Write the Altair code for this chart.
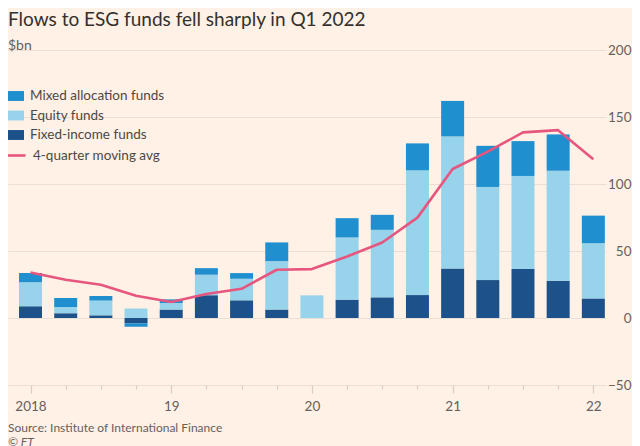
import altair as alt
import pandas as pd

# ---- data ($bn) ----
quarters = ["2018Q1", "2018Q2", "2018Q3", "2018Q4",
            "2019Q1", "2019Q2", "2019Q3", "2019Q4",
            "2020Q1", "2020Q2", "2020Q3", "2020Q4",
            "2021Q1", "2021Q2", "2021Q3", "2021Q4",
            "2022Q1"]
fixed_income = [8.7, 3.5, 2.0, -4.0, 6.3, 17.0, 13.2, 6.3, 0.0, 13.7, 15.4, 17.1, 36.9, 28.3, 36.5, 27.8, 14.6]
equity = [17.9, 4.7, 11.0, 7.0, 4.9, 15.3, 16.1, 36.1, 16.9, 46.4, 50.4, 93.1, 98.6, 69.5, 69.5, 82.1, 41.2]
mixed_allocation = [6.9, 6.7, 3.4, -2.5, 2.7, 4.9, 4.2, 14.0, 0.0, 14.4, 11.2, 20.1, 26.5, 30.7, 26.0, 27.1, 20.6]
moving_avg = [34.0, 28.5, 24.8, 16.6, 11.9, 17.9, 21.8, 36.0, 36.5, 45.9, 56.3, 74.9, 111.2, 124.1, 138.5, 140.2, 118.4]
y_ticks = [-50, 0, 50, 100, 150, 200]

series_names = ["Mixed allocation funds", "Equity funds", "Fixed-income funds"]
series_colors = ["#1f8fcf", "#97d3ea", "#1d5189"]
line_name = "4-quarter moving avg"
line_color = "#e6567f"
source_text = "Source: Institute of International Finance"
copyright_text = "© FT"

FONT = "Lato"
GREY = "#66605c"


def qpos(label):
    return int(label[:4]) + (int(label[-1]) - 1) / 4


rows = []
stack_series = [("Fixed-income funds", fixed_income), ("Equity funds", equity),
                ("Mixed allocation funds", mixed_allocation)]
for i, q in enumerate(quarters):
    for order, (name, vals) in enumerate(stack_series):
        rows.append({"quarter": q, "t": qpos(q), "type": name, "value": vals[i], "ord": order})
bars_df = pd.DataFrame(rows)
line_df = pd.DataFrame({"quarter": quarters, "t": [qpos(q) for q in quarters],
                        "ma": moving_avg, "series": line_name})

W, H = 598, 335

x_scale = alt.Scale(domain=[2017.84, 2022.09], nice=False, zero=False, padding=0)
y_scale = alt.Scale(domain=[-50, 200], nice=False, zero=False, padding=0)

x_axis = alt.Axis(
    values=[qpos(q) for q in quarters],
    labelExpr="datum.value % 1 == 0 ? (datum.value == 2018 ? '2018' : slice(toString(datum.value), 2)) : ''",
    title=None, grid=False, domain=False,
    tickColor="#d8cdc3", tickWidth=1.2,
    tickSize={"condition": {"test": "datum.value % 1 == 0", "value": 8}, "value": 4},
    labelPadding=6, labelFontSize=13.5, labelColor=GREY, labelFont=FONT,
)
y_axis = alt.Axis(
    orient="right", values=y_ticks, title=None, grid=True,
    gridColor="#e9dfd6", gridWidth=1.2, domain=False, ticks=False,
    labelAlign="right", labelPadding=25, labelFontSize=13.5,
    labelColor=GREY, labelFont=FONT,
)

bars = alt.Chart(bars_df).mark_bar(size=23).encode(
    x=alt.X("t:Q", scale=x_scale, axis=x_axis),
    y=alt.Y("value:Q", scale=y_scale, axis=y_axis, stack="zero"),
    color=alt.Color(
        "type:N",
        scale=alt.Scale(domain=series_names, range=series_colors),
        legend=alt.Legend(
            title=None, orient="none", legendX=-2, legendY=37, direction="vertical",
            symbolType="M-1,-0.55L1,-0.55L1,0.55L-1,0.55Z", symbolSize=324,
            symbolStrokeWidth=0, symbolOpacity=1,
            labelFontSize=13.5, labelColor="#4d4845", labelFont=FONT,
            labelOffset=6, rowPadding=3.5, padding=0,
        ),
    ),
    order=alt.Order("ord:Q", sort="ascending"),
)

line = alt.Chart(line_df).mark_line(strokeWidth=2.6, strokeJoin="round").encode(
    x=alt.X("t:Q", scale=x_scale, axis=x_axis),
    y=alt.Y("ma:Q", scale=y_scale, axis=y_axis),
    stroke=alt.Stroke(
        "series:N",
        scale=alt.Scale(domain=[line_name], range=[line_color]),
        legend=alt.Legend(
            title=None, orient="none", legendX=-2, legendY=95,
            symbolType="stroke", symbolSize=324, symbolStrokeWidth=2.6,
            labelFontSize=13.5, labelColor="#4d4845", labelFont=FONT,
            labelOffset=6, padding=0,
        ),
    ),
)

source = alt.Chart(pd.DataFrame({"text": [source_text]})).mark_text(
    align="left", baseline="middle", fontSize=12, font=FONT, color=GREY
).encode(text="text:N", x=alt.value(0), y=alt.value(H + 43))

copyright_mark = alt.Chart(pd.DataFrame({"text": [copyright_text]})).mark_text(
    align="left", baseline="middle", fontSize=12, font=FONT, color=GREY, fontStyle="italic"
).encode(text="text:N", x=alt.value(0), y=alt.value(H + 57))

chart = alt.layer(bars, line, source, copyright_mark).properties(
    width=W, height=H,
    title=alt.Title(
        "Flows to ESG funds fell sharply in Q1 2022",
        subtitle="$bn", anchor="start", frame="group",
        fontSize=19, font=FONT, fontWeight="normal", color="#33302e",
        subtitleFontSize=14, subtitleFont=FONT, subtitleColor=GREY,
        subtitlePadding=9, offset=-10,
    ),
    autosize=alt.AutoSizeParams(type="none"),
    padding={"left": 0, "top": 42, "right": 26, "bottom": 61},
).configure(background="#fff1e5").configure_view(stroke=None)

chart.save("out.html", embed_options={"renderer": "svg", "actions": False})
